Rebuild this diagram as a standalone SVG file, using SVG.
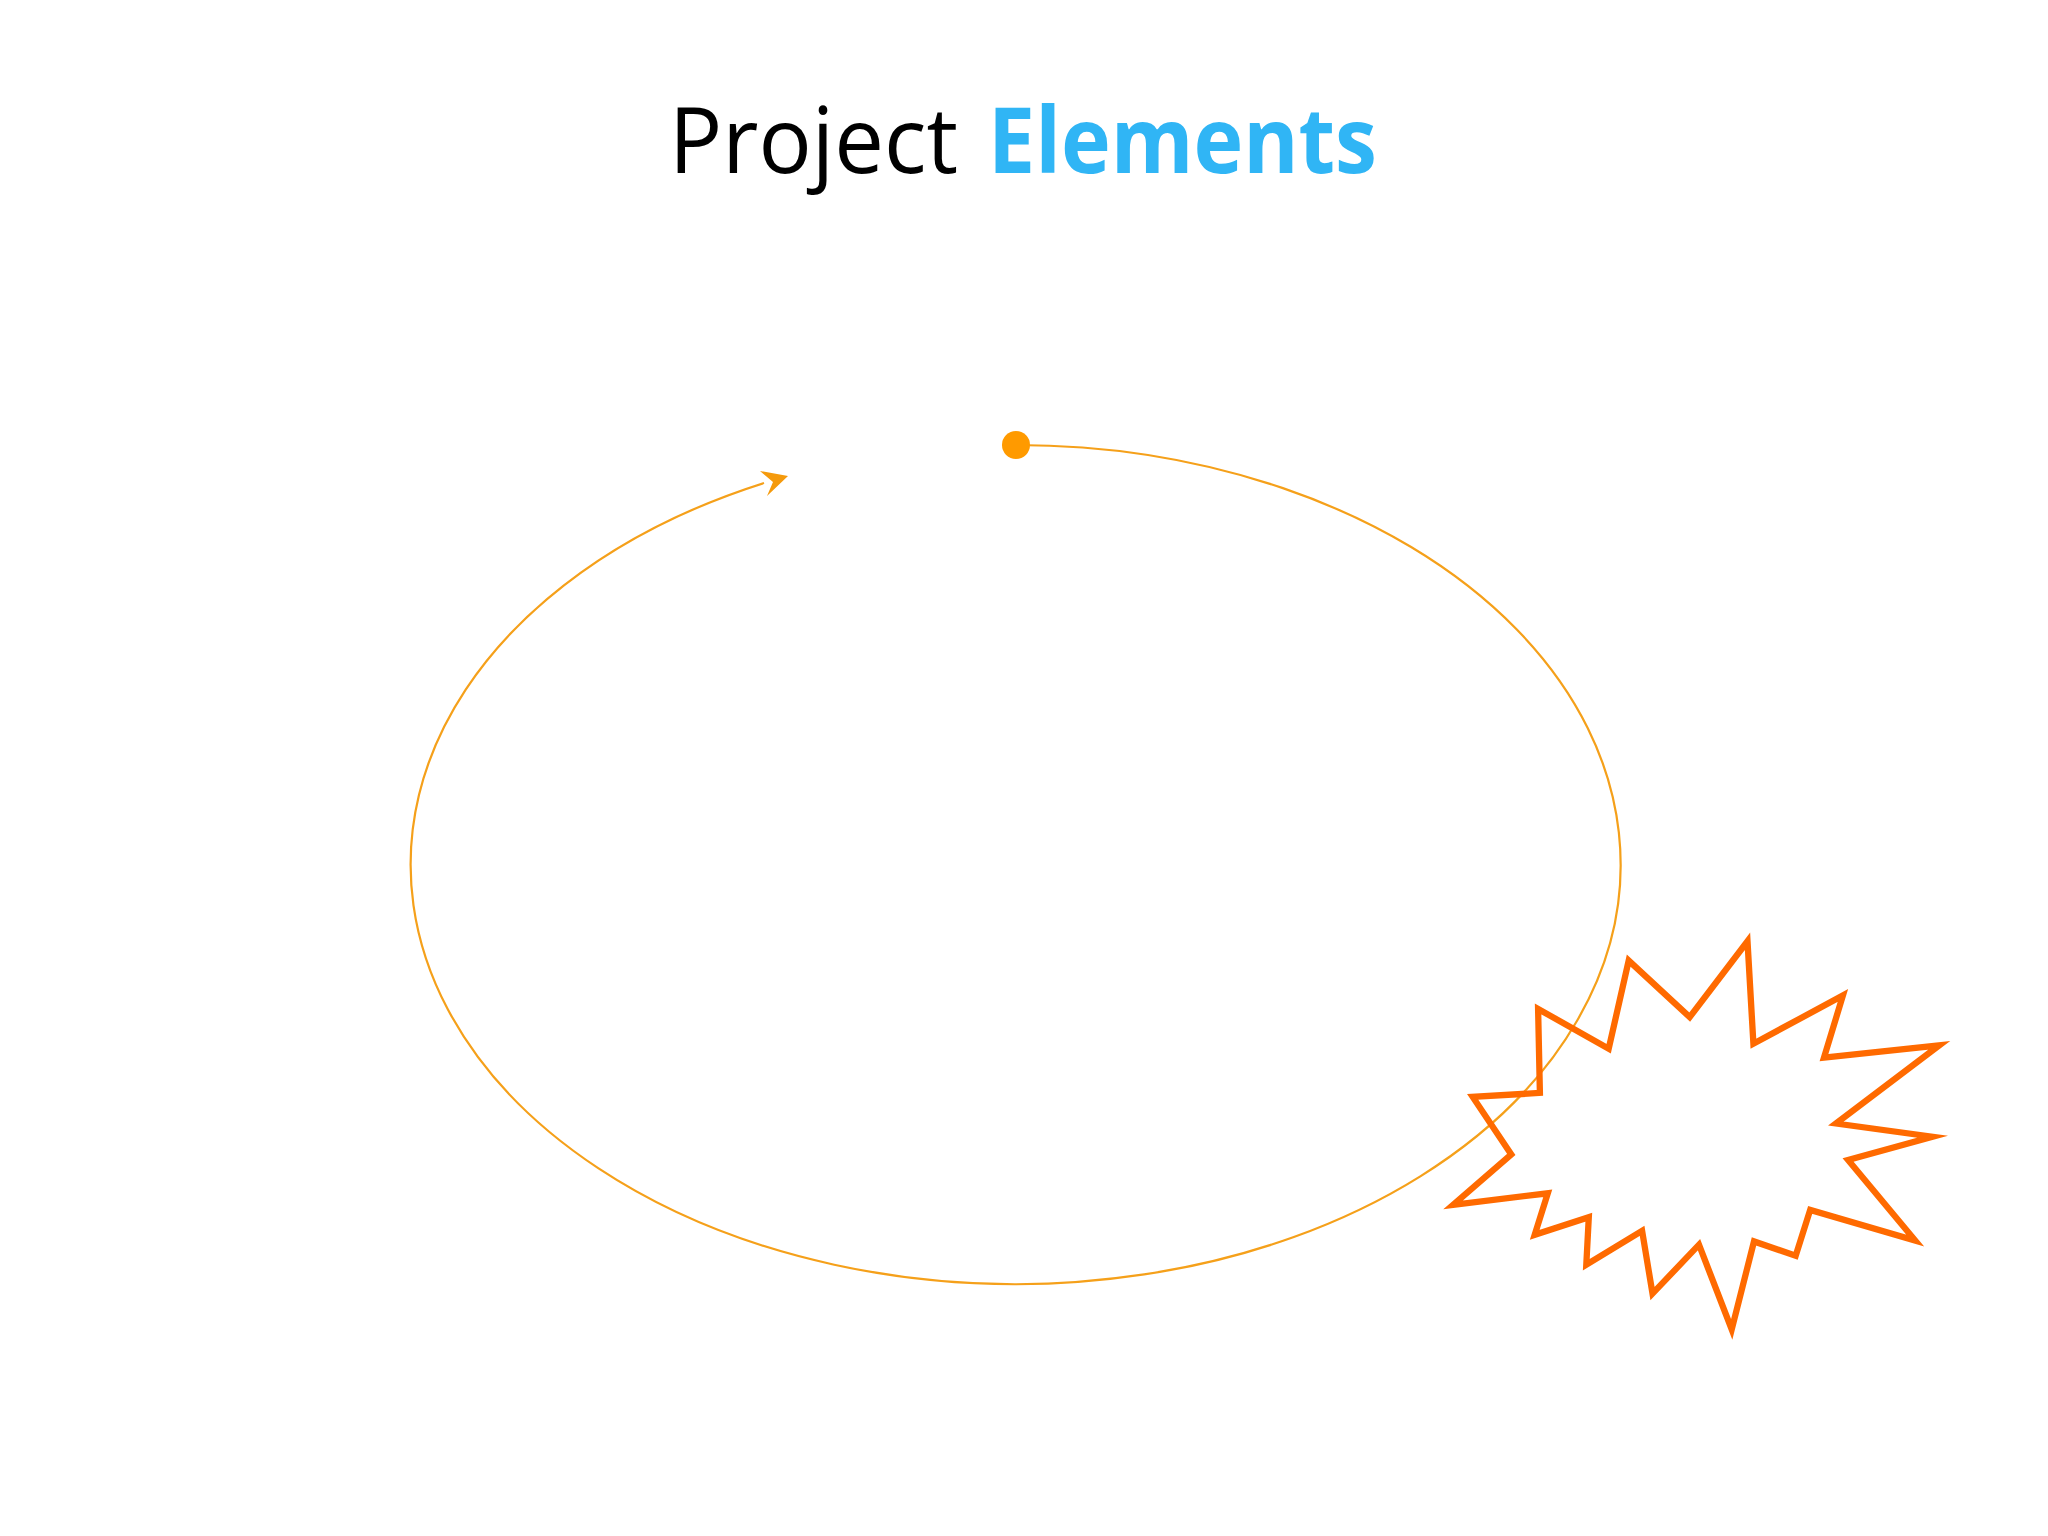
<svg xmlns="http://www.w3.org/2000/svg" width="2048" height="1536" viewBox="0 0 2048 1536">
<style>
.t{font-family:"Open Sans","Liberation Sans",sans-serif;font-size:91px}
.cyc{fill:none;stroke:#F5A01A;stroke-width:2.2}
.burst{fill:none;stroke:#FF6A00;stroke-width:6.3;stroke-linejoin:miter;stroke-miterlimit:20}
</style>
<rect width="2048" height="1536" fill="#ffffff"/>
<g id="title">
<text class="t" x="669" y="173" fill="#000000" textLength="289" lengthAdjust="spacingAndGlyphs">Project</text>
<text class="t" x="988" y="173" fill="#30B5F5" font-weight="bold" textLength="389" lengthAdjust="spacingAndGlyphs">Elements</text>
</g>
<g id="connectors">
<path class="cyc" d="M1016,445 A605,419.5 0 1 1 764,483"/>
<polygon points="788,476 760,471 773,482 767,496" fill="#F59A0C"/>
</g>
<g id="start-dot">
<circle cx="1016" cy="445" r="14" fill="#FF9A00"/>
</g>
<g id="starburst">
<polygon class="burst" points="1747.5,941.3 1753.4,1043.7 1842.9,995.5 1824,1057.7 1939.3,1045.3 1836,1123.5 1932.4,1136.7 1848.1,1160 1915.2,1240.5 1810.2,1209.9 1795.7,1255.7 1754,1241.4 1731.7,1329.5 1699,1244.7 1652.5,1293.6 1642.1,1230.8 1586.3,1264.7 1588.8,1217.2 1534.7,1234.8 1547.8,1193.3 1453.1,1204.8 1511.3,1154.4 1472.7,1096.9 1539.9,1092.9 1538.1,1008.9 1608.7,1048.7 1628.7,960.6 1689.7,1017.1"/>
</g>
</svg>
